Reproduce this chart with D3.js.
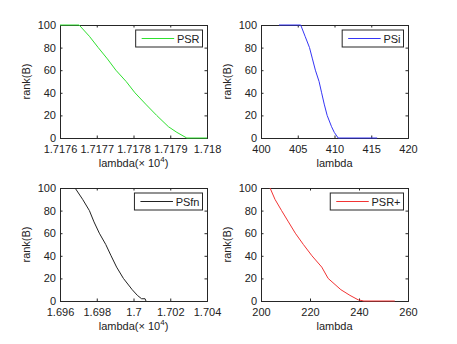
<!DOCTYPE html>
<html>
<head>
<meta charset="utf-8">
<script src="https://cdn.jsdelivr.net/npm/d3@7"></script>
<style>
  html, body { margin: 0; padding: 0; background: #fff; }
  svg { display: block; }
  text { font-family: "Liberation Sans", Arial, Helvetica, sans-serif; fill: #222; }
</style>
</head>
<body>
<svg id="chart" width="457" height="344"></svg>
<script>
// ---- data ----
const rankTicks = [0, 20, 40, 60, 80, 100];

// PSR (lambda in units of 10^4)
const psrLambda = [1.7176, 1.717652, 1.71768, 1.717704, 1.717729, 1.717752, 1.71778, 1.717804, 1.717833, 1.717863, 1.717895, 1.717918, 1.717945, 1.718];
const psrRank   = [100, 100, 90, 80, 70, 60, 50, 40, 30, 20, 10, 5, 0, 0];
const psrTicks  = [1.7176, 1.7177, 1.7178, 1.7179, 1.718];

// PSi
const psiLambda = [402.45, 405.4, 406.0, 406.6, 407.0, 407.4, 407.9, 408.25, 408.6, 409.0, 409.6, 409.97, 410.5, 415.8];
const psiRank   = [100, 100, 90, 80, 70, 60, 50, 40, 30, 20, 10, 5, 0, 0];
const psiTicks  = [400, 405, 410, 415, 420];

// PSfn (lambda in units of 10^4)
const psfnLambda = [1.69682, 1.69723, 1.6976, 1.69785, 1.69814, 1.69849, 1.69878, 1.69908, 1.69945, 1.69993, 1.70021, 1.70044, 1.70063, 1.70068];
const psfnRank   = [100, 90, 80, 70, 60, 50, 40, 30, 20, 10, 5, 2, 2, 0];
const psfnTicks  = [1.696, 1.698, 1.7, 1.702, 1.704];

// PSR+
const psrpLambda = [203.7, 205.7, 208.4, 211.2, 214.0, 217.3, 220.8, 224.8, 227.4, 232.6, 236.3, 239.7, 242.0, 254.6];
const psrpRank   = [100, 90, 80, 70, 60, 50, 40, 30, 20, 10, 5, 1, 0, 0];
const psrpTicks  = [200, 220, 240, 260];

// ---- panels ----
const panels = [
  { name: "PSR",  xs: psrLambda,  ys: psrRank,  ticks: psrTicks,  color: "#2fe02f", sci: true,
    col: 0, row: 0 },
  { name: "PSi",  xs: psiLambda,  ys: psiRank,  ticks: psiTicks,  color: "#3535f5", sci: false,
    col: 1, row: 0 },
  { name: "PSfn", xs: psfnLambda, ys: psfnRank, ticks: psfnTicks, color: "#222222", sci: true,
    col: 0, row: 1 },
  { name: "PSR+", xs: psrpLambda, ys: psrpRank, ticks: psrpTicks, color: "#f23434", sci: false,
    col: 1, row: 1 }
];

const colX = [60, 261];
const rowY = [25, 188];
const W = 147, H = 113;
const axisColor = "#262626";
const fontSize = 11;

const svg = d3.select("#chart");

panels.forEach(p => {
  const x0 = colX[p.col], y0 = rowY[p.row];
  const x = d3.scaleLinear().domain([p.ticks[0], p.ticks[p.ticks.length - 1]]).range([x0, x0 + W]);
  const y = d3.scaleLinear().domain([0, 100]).range([y0 + H, y0]);
  const g = svg.append("g");

  const fmt = v => String(+v.toFixed(6));

  // bottom axis (ticks inward)
  const bottom = g.append("g").attr("transform", `translate(0,${y0 + H})`)
    .call(d3.axisBottom(x).tickValues(p.ticks).tickSize(-2.5).tickPadding(5).tickFormat(fmt));
  const top = g.append("g").attr("transform", `translate(0,${y0})`)
    .call(d3.axisTop(x).tickValues(p.ticks).tickSize(-2.5).tickFormat(""));
  const left = g.append("g").attr("transform", `translate(${x0},0)`)
    .call(d3.axisLeft(y).tickValues(rankTicks).tickSize(-2.5).tickPadding(5));
  const right = g.append("g").attr("transform", `translate(${x0 + W},0)`)
    .call(d3.axisRight(y).tickValues(rankTicks).tickSize(-2.5).tickFormat(""));

  [bottom, top, left, right].forEach(a => {
    a.select(".domain").attr("stroke", axisColor).attr("stroke-width", 1);
    a.selectAll(".tick line").attr("stroke", axisColor);
    a.selectAll("text").attr("font-size", fontSize).attr("fill", "#222")
      .attr("font-family", '"Liberation Sans", Arial, sans-serif');
  });
  bottom.selectAll(".tick text").attr("dy", null).attr("y", 15);
  left.selectAll(".tick text").attr("x", -4);

  // line
  const pts = p.xs.map((v, i) => [v, p.ys[i]]);
  g.append("path")
    .datum(pts)
    .attr("fill", "none")
    .attr("stroke", p.color)
    .attr("stroke-width", 1)
    .attr("d", d3.line().x(d => x(d[0])).y(d => y(d[1])));

  // y label
  g.append("text")
    .attr("transform", `translate(${x0 - 30},${y0 + H / 2}) rotate(-90)`)
    .attr("text-anchor", "middle")
    .attr("font-size", fontSize)
    .text("rank(B)");

  // x label
  const xl = g.append("text")
    .attr("x", x0 + W / 2)
    .attr("y", y0 + H + 29)
    .attr("text-anchor", "middle")
    .attr("font-size", fontSize);
  if (p.sci) {
    xl.append("tspan").text("lambda(\u00d7 10");
    xl.append("tspan").attr("font-size", 8).attr("dy", -5).text("4");
    xl.append("tspan").attr("dy", 5).text(")");
  } else {
    xl.text("lambda");
  }

  // legend
  const lg = g.append("g");
  const txt = lg.append("text")
    .attr("font-size", fontSize)
    .attr("text-anchor", "end")
    .attr("x", x0 + W - 4.5 - 3)
    .attr("y", y0 + 5 + 12.5)
    .text(p.name);
  const tw = txt.node().getComputedTextLength();
  const boxRight = x0 + W - 4.5;
  const textLeft = boxRight - 3 - tw;
  const lineRight = textLeft - 2.7;
  const lineLeft = lineRight - 32.5;
  const boxLeft = lineLeft - 6;
  lg.insert("rect", "text")
    .attr("x", boxLeft).attr("y", y0 + 5)
    .attr("width", boxRight - boxLeft).attr("height", 17)
    .attr("fill", "#fff").attr("stroke", axisColor).attr("stroke-width", 1);
  lg.append("line")
    .attr("x1", lineLeft).attr("x2", lineRight)
    .attr("y1", y0 + 13.5).attr("y2", y0 + 13.5)
    .attr("stroke", p.color).attr("stroke-width", 1);
});
</script>
</body>
</html>
